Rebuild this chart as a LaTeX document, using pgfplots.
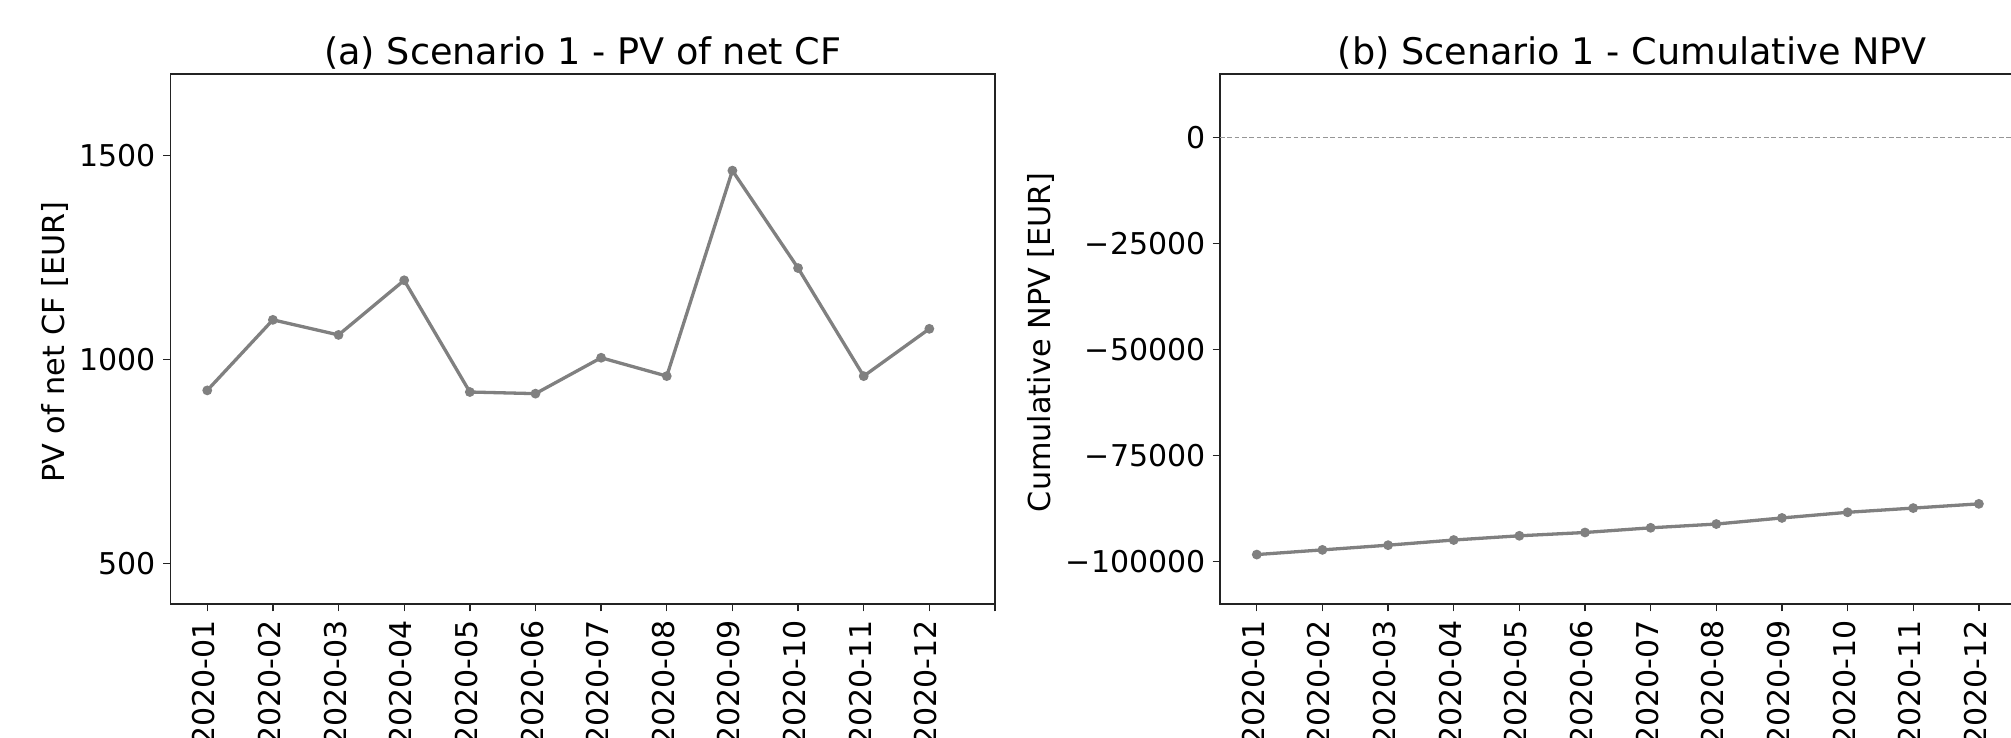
\documentclass[border=0pt]{standalone}
\usepackage{fontspec}
\setmainfont{DejaVu Sans}
\usepackage{pgfplots}
\pgfplotsset{compat=1.18}
\definecolor{linegray}{RGB}{128,128,128}
\definecolor{zerogray}{RGB}{150,150,150}
\definecolor{axisblack}{RGB}{35,35,35}
\pgfplotsset{
  myaxis/.style={
    scale only axis,
    width=274.83pt, height=176.67pt,
    anchor=south west,
    xmin=-0.56, xmax=12,
    xtick={0,1,2,3,4,5,6,7,8,9,10,11,12},
    xticklabels={2020-01,2020-02,2020-03,2020-04,2020-05,2020-06,2020-07,2020-08,2020-09,2020-10,2020-11,2020-12,{}},
    xtick pos=bottom, ytick pos=left,
    tick align=outside,
    major tick length=2.43pt,
    every tick/.style={line width=0.45pt, color=axisblack},
    axis line style={line width=0.45pt, color=axisblack},
    scaled y ticks=false,
    xticklabel style={yshift=-2.8pt, rotate=90, anchor=east, inner sep=0pt, text depth=0.24em, font=\fontsize{10pt}{12pt}\selectfont},
    yticklabel style={anchor=east, inner sep=0pt, xshift=-2.2pt, font=\fontsize{10pt}{12pt}\selectfont},
    title style={at={(axis description cs:0.5,1)}, anchor=south, inner sep=0pt, yshift=-4.5pt, font=\fontsize{12.2pt}{14pt}\selectfont},
    ylabel style={anchor=south, rotate=0, inner sep=0pt, font=\fontsize{10.1pt}{12pt}\selectfont},
    clip=false,
  }
}
\begin{document}
\begin{tikzpicture}
\begin{axis}[myaxis, at={(56.83pt,44.33pt)},
  ymin=400, ymax=1700,
  ytick={500,1000,1500}, yticklabels={500,1000,1500},
  title={(a) Scenario 1 - PV of net CF},
  ylabel={PV of net CF [EUR]},
  ylabel style={at={(axis description cs:-0.1224,0.494)}},
]
\addplot[color=linegray, line width=1.1pt, mark=*, mark size=1.05pt, mark options={solid, fill=linegray}]
coordinates {(0,924) (1,1097) (2,1060) (3,1194) (4,920) (5,916) (6,1004) (7,959) (8,1463) (9,1224) (10,959) (11,1075)};
\end{axis}
\begin{axis}[myaxis, at={(406.67pt,44.33pt)},
  ymin=-110000, ymax=15000,
  ytick={-100000,-75000,-50000,-25000,0},
  yticklabels={−100000,−75000,−50000,−25000,0},
  title={(b) Scenario 1 - Cumulative NPV},
  ylabel={Cumulative NPV [EUR]},
  ylabel style={at={(axis description cs:-0.2005,0.494)}},
]
\addplot[color=zerogray, line width=0.45pt, dash pattern=on 1.55pt off 0.9pt, forget plot]
coordinates {(-0.56,0) (12,0)};
\addplot[color=linegray, line width=1.1pt, mark=*, mark size=1.05pt, mark options={solid, fill=linegray}]
coordinates {(0,-98339) (1,-97232) (2,-96125) (3,-94906) (4,-93909) (5,-93134) (6,-92027) (7,-91141) (8,-89701) (9,-88372) (10,-87375) (11,-86379)};
\end{axis}
\pgfresetboundingbox
\path[use as bounding box] (0,0) rectangle (670.33pt,245.67pt);
\end{tikzpicture}
\end{document}
